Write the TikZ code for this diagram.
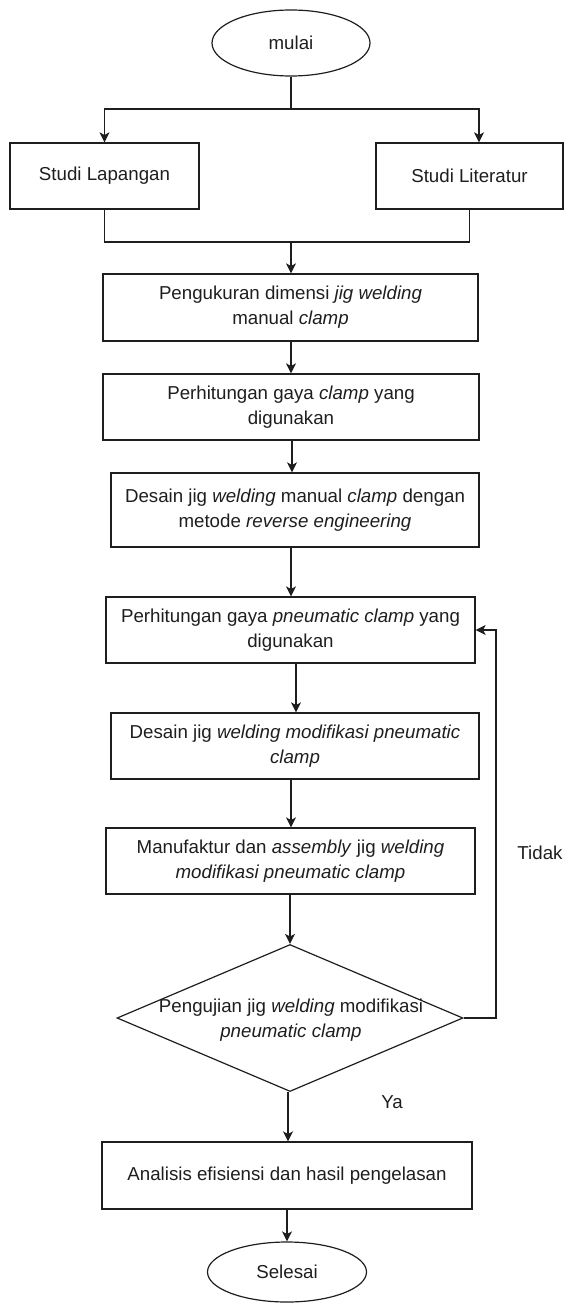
\documentclass[tikz,border=0pt]{standalone}
\usepackage{fontspec}
\setmainfont{Liberation Sans}
\usetikzlibrary{shapes.geometric,arrows.meta,calc}
\definecolor{ink}{HTML}{1E1E1E}
\begin{document}
\begin{tikzpicture}[x=1pt,y=-1pt,
  every node/.style={font=\fontsize{18.7}{25}\selectfont, text=ink},
  shp/.style={draw=ink, line width=1.2pt, inner sep=0pt, align=center},
  box/.style={shp, rectangle},
  term/.style={shp, ellipse},
  ln/.style={draw=ink, line width=1.2pt},
  arr/.style={ln, -{Stealth[length=10pt,width=10pt,inset=2.5pt]}},
  lbl/.style={inner sep=0pt}
]
\useasboundingbox (0,0) rectangle (566,1303);

% nodes
\node[term, minimum width=158, minimum height=66] (mulai) at (291,43) {mulai};
\node[box, minimum width=189, minimum height=66] (lap) at (104.5,176) {Studi Lapangan};
\node[box, minimum width=187, minimum height=66] (lit) at (469.5,176) {Studi Literatur};
\node[box, minimum width=375, minimum height=67] (b1) at (290.5,307.5)
  {Pengukuran dimensi \textit{jig welding}\\manual \textit{clamp}};
\node[box, minimum width=376, minimum height=66] (b2) at (291,407)
  {Perhitungan gaya \textit{clamp} yang\\digunakan};
\node[box, minimum width=368, minimum height=74] (b3) at (295,510)
  {Desain jig \textit{welding} manual \textit{clamp} dengan\\metode \textit{reverse engineering}};
\node[box, minimum width=369, minimum height=66] (b4) at (290.5,630)
  {Perhitungan gaya \textit{pneumatic clamp} yang\\digunakan};
\node[box, minimum width=368, minimum height=66] (b5) at (295,746)
  {Desain jig \textit{welding modifikasi pneumatic}\\\textit{clamp}};
\node[box, minimum width=369, minimum height=66] (b6) at (290.5,861)
  {Manufaktur dan \textit{assembly} jig \textit{welding}\\\textit{modifikasi pneumatic clamp}};
\node[shp, diamond, minimum width=346, minimum height=147] (dec) at (290,1018) {};
\node[lbl, align=center] (dectext) at (291,1020.5)
  {Pengujian jig \textit{welding} modifikasi\\\textit{pneumatic clamp}};
\node[box, minimum width=370, minimum height=67] (b7) at (287,1175.5)
  {Analisis efisiensi dan hasil pengelasan};
\node[term, minimum width=159, minimum height=60] (selesai) at (287,1272) {Selesai};

\node[lbl] (tidak) at (540,853) {Tidak};
\node[lbl] (ya) at (392,1102) {Ya};

% split
\coordinate (split) at (291,109);
\draw[ln] (mulai.south) -- (split);
\draw[arr] (split) -| (lap.north);
\draw[arr] (split) -| ([xshift=9.5]lit.north);
% merge
\coordinate (merge) at (291,242);
\draw[ln] (lap.south) |- (merge);
\draw[ln] (lit.south) |- (merge);
\draw[arr] (merge) -- (merge |- b1.north);

% main chain
\draw[arr] ([xshift=0.5]b1.south) -- ([xshift=0.5]b1.south |- b2.north);
\draw[arr] ([xshift=1]b2.south) -- ([xshift=1]b2.south |- b3.north);
\draw[arr] ([xshift=-4]b3.south) -- ([xshift=-4]b3.south |- b4.north);
\draw[arr] ([xshift=5.5]b4.south) -- ([xshift=5.5]b4.south |- b5.north);
\draw[arr] ([xshift=-4]b5.south) -- ([xshift=-4]b5.south |- b6.north);
\draw[arr] (dec.north |- b6.south) -- (dec.north);
\draw[arr] ([xshift=-2]dec.south) -- ([xshift=-2]dec.south |- b7.north);
\draw[arr] (b7.south) -- (selesai.north);

% loop back
\coordinate (loopx) at (496,0);
\draw[arr] (dec.east) -- (dec.east -| loopx) |- (b4.east);
\end{tikzpicture}
\end{document}
